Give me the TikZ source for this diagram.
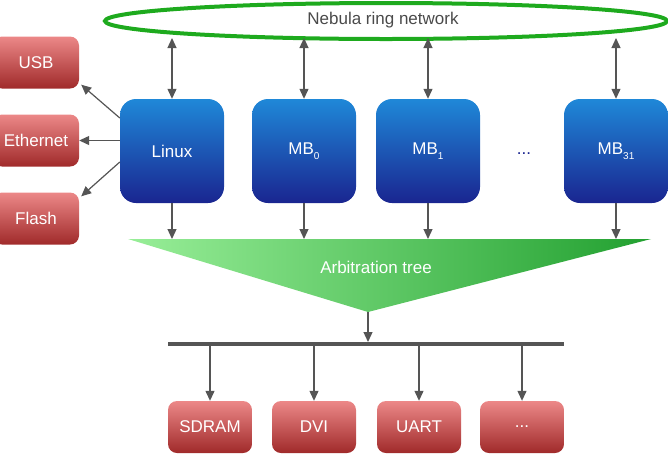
\documentclass[tikz,border=0pt]{standalone}
\usepackage{fontspec}
\setmainfont{Liberation Sans}
\usetikzlibrary{arrows.meta,shapes.geometric,calc}
\definecolor{blueL}{HTML}{1F88D8}
\definecolor{blueD}{HTML}{1A2590}
\definecolor{redL}{HTML}{EC8888}
\definecolor{redD}{HTML}{A02A2A}
\definecolor{greenL}{HTML}{98EE98}
\definecolor{greenD}{HTML}{22A030}
\definecolor{ringG}{HTML}{1EAA1E}
\definecolor{arrG}{HTML}{555555}
\definecolor{txtG}{HTML}{4A4A4A}
\newcommand{\subtxt}[1]{\raisebox{-4.5pt}{\fontsize{10}{10}\selectfont #1}}
\tikzset{
  lbl/.style={font=\fontsize{17}{20}\selectfont, text=white},
  cpu/.style={lbl, shade, shading angle=40, top color=blueL, bottom color=blueD,
    rounded corners=16pt, minimum width=104pt, minimum height=104pt, inner sep=0pt},
  dev/.style={lbl, shade, shading angle=40, top color=redL, bottom color=redD,
    rounded corners=9pt, minimum width=84pt, minimum height=52pt, inner sep=0pt},
  arr/.style={draw=arrG, line width=1.2pt, -{Triangle[length=10pt,width=9pt]}},
  darr/.style={draw=arrG, line width=1.2pt, {Triangle[length=10pt,width=9pt]}-{Triangle[length=10pt,width=9pt]}},
}
\begin{document}
\begin{tikzpicture}[x=1pt,y=-1pt]
\useasboundingbox (0,0) rectangle (668,456);
% ring
\node[ellipse, draw=ringG, line width=4pt, minimum width=562pt, minimum height=36pt, inner sep=0pt] (ring) at (386,21) {};
\node[font=\fontsize{17}{20}\selectfont, text=txtG] (ringlbl) at (383,20) {Nebula ring network};
% processors
\node[cpu] (linux) at (172,151) {Linux};
\node[cpu] (mb0) at (304,151) {MB\subtxt{0}};
\node[cpu] (mb1) at (428,151) {MB\subtxt{1}};
\node[cpu] (mb31) at (616,151) {MB\subtxt{31}};
\node[font=\fontsize{17}{20}\selectfont, text=blueD] (dots) at (524,154) {...};
% left devices
\node[dev, minimum width=86pt] (usb) at (36,62.5) {USB};
\node[dev, minimum width=86pt] (eth) at (36,140.5) {Ethernet};
\node[dev, minimum width=86pt] (flash) at (36,218.5) {Flash};
% bottom devices
\node[dev] (sdram) at (210,427) {SDRAM};
\node[dev] (dvi) at (314,427) {DVI};
\node[dev] (uart) at (419,427) {UART};
\node[dev] (more) at (522,427) {...};
% arbitration tree
\coordinate (tl) at (128,239);
\coordinate (tr) at (651,239);
\coordinate (apex) at (368,312);
\shade[left color=greenL, right color=greenD] (tl) -- (tr) -- (apex) -- cycle;
\node[lbl] (arb) at (376,267) {Arbitration tree};
% bus
\coordinate (busL) at (168,344);
\coordinate (busR) at (564,344);
\draw[draw=arrG, line width=4pt] (busL) -- (busR);
\coordinate (busT) at (368,342);
\coordinate (busB) at (368,346);
% ring arrows
\coordinate (rb) at (0,38);
\foreach \n in {linux,mb0,mb1,mb31}{
  \draw[darr] (\n.north |- rb) -- (\n.north);
  \draw[arr] (\n.south) -- (\n.south |- tl);
}
\draw[arr] (apex) -- (busT);
\foreach \n in {sdram,dvi,uart,more}{
  \draw[arr] (\n.north |- busB) -- (\n.north);
}
% linux to peripherals
\draw[arr] ([yshift=33pt]linux.west) -- ([xshift=2pt,yshift=4pt]usb.south east);
\draw[arr] (linux.west |- eth.east) -- (eth.east);
\draw[arr] ([yshift=-11pt]linux.west) -- ([xshift=2pt,yshift=-4pt]flash.north east);
\end{tikzpicture}
\end{document}
